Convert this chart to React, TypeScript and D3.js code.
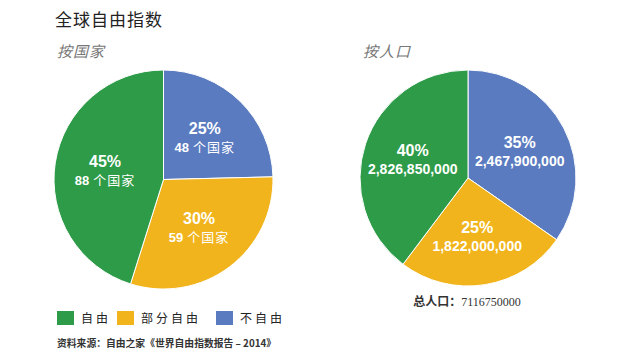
import React from "react";
import * as d3 from "d3";

const categories = ["不自由", "部分自由", "自由"];
const countryValues = [48, 59, 88];
const countryPercents = ["25%", "30%", "45%"];
const countryUnit = "个国家";
const populationValues = [2467900000, 1822000000, 2826850000];
const populationPercents = ["35%", "25%", "40%"];
const colors = ["#5a7bbf", "#f1b41c", "#2d9b48"];
const legendOrder = [2, 1, 0];
const totalPopulation = "7116750000";

const W = 640;
const H = 360;
const cjk = "'Noto Sans CJK SC', 'Liberation Sans', sans-serif";
const numFont = "'Liberation Sans', Arial, sans-serif";

function Pie({ cx, cy, r, values, percents, nums, unit }: { cx: number; cy: number; r: number; values: number[]; percents: string[]; nums: string[]; unit?: string }) {
  const pie = d3.pie<number>().sort(null).value((d) => d);
  const arcs = pie(values);
  const arc = d3.arc<d3.PieArcDatum<number>>().innerRadius(0).outerRadius(r);
  const labelArc = d3.arc<d3.PieArcDatum<number>>().innerRadius(r * 0.54).outerRadius(r * 0.54);
  return (
    <g transform={`translate(${cx},${cy})`}>
      {arcs.map((a, i) => (
        <path key={i} d={arc(a) || ""} fill={colors[i]} stroke="#fff" strokeWidth={1} />
      ))}
      {arcs.map((a, i) => {
        const [x, y] = labelArc.centroid(a);
        return (
          <g key={"l" + i} transform={`translate(${x},${y})`} fill="#fff" fontWeight="bold" textAnchor="middle">
            <text y={-3} fontSize={16} fontFamily={numFont}>{percents[i]}</text>
            <text y={15} fontSize={unit ? 13 : 14} fontFamily={numFont}>
              {nums[i]}
              {unit ? <tspan fontFamily={cjk} fontWeight="normal" letterSpacing={1}>{" " + unit}</tspan> : null}
            </text>
          </g>
        );
      })}
    </g>
  );
}

export default function App() {
  const fmt = d3.format(",");
  return (
    <svg width={W} height={H} style={{ position: "absolute", left: 0, top: 0, background: "#fff" }}>
      <text x={55} y={26} fontSize={17} fontFamily={cjk} fill="#222" letterSpacing={1}>全球自由指数</text>
      <text x={57} y={57} fontSize={15} fontFamily={cjk} fontStyle="italic" fill="#777" letterSpacing={1}>按国家</text>
      <text x={363} y={57} fontSize={15} fontFamily={cjk} fontStyle="italic" fill="#777" letterSpacing={1}>按人口</text>
      <Pie cx={163.5} cy={179.5} r={109.5} values={countryValues} percents={countryPercents}
        nums={countryValues.map((v) => String(v))} unit={countryUnit} />
      <Pie cx={468} cy={178} r={108} values={populationValues} percents={populationPercents}
        nums={populationValues.map((v) => fmt(v))} />
      <text x={467} y={306} textAnchor="middle" fontSize={12} fontFamily={cjk} fontWeight="bold" fill="#333">
        总人口：<tspan fontFamily="'Liberation Serif', serif" fontWeight="normal">{totalPopulation}</tspan>
      </text>
      {legendOrder.map((ci, k) => {
        const xs = [57, 117, 216];
        return (
          <g key={ci} transform={`translate(${xs[k]},311)`}>
            <rect width={17} height={14} fill={colors[ci]} />
            <text x={24} y={11.5} fontSize={12} fontFamily={cjk} fill="#222" letterSpacing={3}>{categories[ci]}</text>
          </g>
        );
      })}
      <text x={57} y={347} fontSize={9.8} fontFamily={cjk} fontWeight="bold" fill="#333">
        资料来源：自由之家《世界自由指数报告 – 2014》
      </text>
    </svg>
  );
}
